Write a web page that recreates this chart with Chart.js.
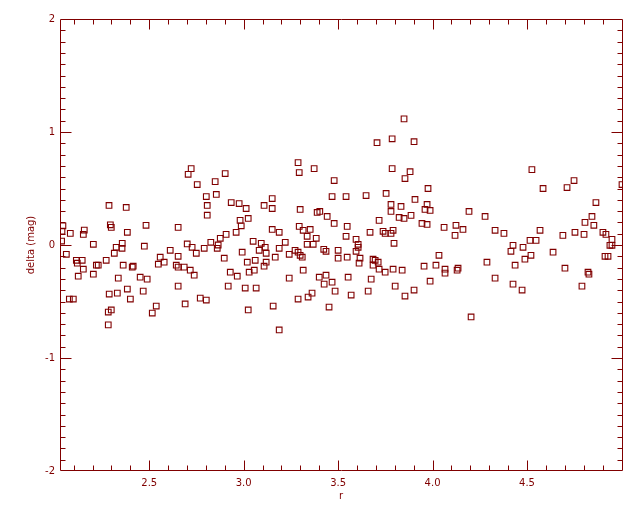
<!DOCTYPE html>
<html>
<head>
<meta charset="utf-8">
<script src="https://cdn.jsdelivr.net/npm/chart.js@4.4.0/dist/chart.umd.min.js"></script>
<style>
  html, body { margin: 0; padding: 0; background: #fff; }
  #wrap { width: 640px; height: 512px; }
</style>
</head>
<body>
<div id="wrap"><canvas id="chart"></canvas></div>
<script>
// values
const rValues = [
  2.043, 2.038, 2.036, 2.082, 2.151, 2.156, 2.204, 2.287, 2.294, 2.299,
  2.378, 2.384, 2.357, 2.356, 2.325, 2.483, 2.474, 2.653, 2.701, 2.706,
  2.722, 2.754, 2.727, 2.791, 2.802, 2.807, 2.807, 2.826, 2.849, 2.855,
  2.860, 2.865, 2.876, 2.902, 2.907, 2.934, 2.960, 2.976, 2.981, 2.987,
  3.013, 3.024, 3.050, 3.093, 3.108, 3.114, 3.151, 3.151, 3.151, 3.188,
  3.188, 3.220, 3.288, 3.294, 3.299, 3.294, 3.315, 3.352, 3.336, 3.336,
  3.368, 3.373, 3.389, 3.384, 3.849, 3.706, 3.786, 3.902, 3.786, 3.881,
  3.854, 3.479, 3.468, 3.542, 3.648, 3.754, 3.976, 3.907, 3.780, 3.780,
  3.833, 3.971, 3.960, 3.987, 3.823, 3.849, 3.886, 3.717, 3.442, 3.479,
  3.403, 3.944, 3.971, 3.548, 3.669, 3.738, 3.749, 3.780, 3.791, 3.542,
  3.595, 3.796, 3.606, 3.606, 4.193, 4.278, 4.061, 4.124, 4.161, 4.119,
  4.331, 4.378, 4.426, 4.479, 4.516, 4.548, 4.569, 4.526, 4.585, 4.690,
  4.712, 4.749, 4.754, 4.802, 4.865, 4.844, 4.807, 4.854, 4.902, 4.918,
  4.950, 4.939, 4.950, 5.003,
  2.061, 2.114, 2.119, 2.145, 2.151, 2.124, 2.077, 2.098, 2.204, 2.220,
  2.230, 2.272, 2.315, 2.362, 2.336, 2.288, 2.283, 2.299, 2.283, 2.331,
  2.384, 2.400, 2.410, 2.415, 2.452, 2.468, 2.489, 2.516, 2.537, 2.548,
  2.558, 2.579, 2.611, 2.643, 2.653, 2.653, 2.653, 2.685, 2.690, 2.717,
  2.738, 2.749, 2.770, 2.802, 2.897, 2.918, 2.929, 2.966, 2.992, 3.019,
  3.029, 3.008, 3.024, 3.061, 3.056, 3.066, 3.082, 3.108, 3.119, 3.119,
  3.167, 3.156, 3.188, 3.241, 3.241, 3.288, 3.272, 3.288, 3.299, 3.310,
  3.315, 3.341, 3.362, 3.400, 3.424, 3.436, 3.500, 3.500, 3.548, 3.595,
  3.616, 3.611, 3.436, 3.426, 3.468, 3.484, 3.452, 3.553, 3.569, 3.685,
  3.696, 3.685, 3.712, 3.717, 3.675, 3.659, 3.749, 3.791, 3.839, 3.802,
  3.854, 3.902, 3.955, 4.018, 4.034, 3.987, 4.066, 4.066, 4.130, 4.135,
  4.204, 4.288, 4.331, 4.415, 4.437, 4.426, 4.474, 4.489, 4.521, 4.638,
  4.701, 4.791, 4.823, 4.828, 4.913, 4.929
];
const deltaValues = [
  0.170, 0.123, 0.035, 0.103, 0.094, 0.132, 0.006, 0.350, 0.179, 0.156,
  0.332, 0.112, 0.015, -0.029, -0.020, 0.174, -0.011, 0.156, 0.009, 0.626,
  0.676, 0.535, -0.020, -0.029, 0.429, 0.350, 0.264, 0.024, 0.561, 0.447,
  -0.029, 0.000, 0.059, 0.632, 0.094, 0.376, 0.112, 0.367, 0.218, 0.170,
  0.323, 0.235, 0.033, 0.015, 0.350, -0.020, 0.411, 0.323, 0.138, 0.112,
  -0.029, 0.024, 0.729, 0.641, 0.315, 0.165, 0.130, 0.138, 0.077, 0.006,
  0.006, 0.676, 0.288, 0.059, 1.116, 0.905, 0.940, 0.914, 0.676, 0.649,
  0.588, 0.570, 0.429, 0.429, 0.438, 0.456, 0.500, 0.403, 0.359, 0.297,
  0.341, 0.359, 0.315, 0.306, 0.244, 0.235, 0.262, 0.218, 0.253, 0.191,
  0.297, 0.191, 0.182, 0.165, 0.112, 0.121, 0.103, 0.103, 0.130, 0.077,
  0.050, 0.015, 0.006, -0.020, 0.297, 0.253, 0.156, 0.174, 0.138, 0.085,
  0.130, 0.103, -0.003, -0.020, 0.041, 0.041, 0.130, 0.667, 0.500, 0.085,
  0.508, 0.570, 0.112, 0.094, 0.376, 0.253, 0.200, 0.174, 0.112, 0.094,
  0.050, -0.003, -0.003, 0.535,
  -0.082, -0.135, -0.161, -0.135, -0.214, -0.276, -0.478, -0.478, -0.258, -0.179,
  -0.179, -0.135, -0.073, -0.179, -0.293, -0.434, -0.593, -0.575, -0.707, -0.426,
  -0.390, -0.478, -0.196, -0.188, -0.285, -0.408, -0.302, -0.602, -0.540, -0.170,
  -0.108, -0.152, -0.047, -0.179, -0.196, -0.100, -0.364, -0.196, -0.522, -0.223,
  -0.267, -0.073, -0.470, -0.487, -0.117, -0.364, -0.241, -0.276, -0.064, -0.152,
  -0.241, -0.381, -0.575, -0.135, -0.223, -0.381, -0.047, -0.188, -0.073, -0.152,
  -0.108, -0.540, -0.752, -0.082, -0.293, -0.478, -0.047, -0.064, -0.091, -0.108,
  -0.223, -0.461, -0.426, -0.285, -0.038, -0.056, -0.047, -0.117, -0.108, -0.056,
  -0.117, -0.161, -0.267, -0.346, -0.329, -0.408, -0.549, -0.285, -0.443, -0.126,
  -0.135, -0.179, -0.152, -0.214, -0.302, -0.408, -0.241, -0.214, -0.223, -0.364,
  -0.452, -0.399, -0.188, -0.179, -0.091, -0.320, -0.214, -0.249, -0.223, -0.205,
  -0.637, -0.152, -0.293, -0.056, -0.179, -0.346, -0.399, -0.126, -0.091, -0.064,
  -0.205, -0.364, -0.241, -0.258, -0.100, -0.100
];
const xTicks = [2.5, 3.0, 3.5, 4.0, 4.5];
const yTicks = [-2, -1, 0, 1, 2];
const xRange = [2.0275, 5.003];
const yRange = [-2, 2];

const ink = '#800000';
const font = { family: 'DejaVu Sans', size: 10 };

// IDL style box: frame on four sides, major and minor ticks pointing inwards
const frameTicks = {
  id: 'frameTicks',
  afterDatasetsDraw(chart) {
    const { ctx, chartArea: a, scales: { x, y } } = chart;
    ctx.save();
    ctx.strokeStyle = ink;
    ctx.lineWidth = 1;
    ctx.beginPath();
    ctx.rect(a.left + 0.5, a.top + 0.5, a.right - a.left, a.bottom - a.top - 1);
    const bottom = a.bottom - 0.5, top = a.top + 0.5;
    const left = a.left + 0.5, right = a.right + 0.5;
    for (let i = 21; i <= 49; i++) {
      const px = Math.round(x.getPixelForValue(i / 10)) + 0.5;
      const len = i % 5 === 0 ? 10 : 5;
      ctx.moveTo(px, bottom); ctx.lineTo(px, bottom - len);
      ctx.moveTo(px, top); ctx.lineTo(px, top + len);
    }
    for (let i = -19; i <= 19; i++) {
      const py = Math.round(y.getPixelForValue(i / 10)) + 0.5;
      const len = i % 10 === 0 ? 11 : 5;
      ctx.moveTo(left, py); ctx.lineTo(left + len, py);
      ctx.moveTo(right, py); ctx.lineTo(right - len, py);
    }
    ctx.stroke();
    ctx.restore();
  }
};

const points = rValues.map((r, i) => ({ x: r, y: deltaValues[i] }));

new Chart(document.getElementById('chart'), {
  type: 'scatter',
  data: {
    datasets: [{
      data: points,
      pointStyle: 'rect',
      pointRadius: 4,
      pointBorderWidth: 1.1,
      borderColor: ink,
      backgroundColor: 'rgba(0,0,0,0)',
      clip: 0,
    }],
  },
  options: {
    responsive: true,
    maintainAspectRatio: false,
    animation: false,
    devicePixelRatio: 1,
    layout: { padding: { top: 19, right: 18, left: 0, bottom: 0 } },
    plugins: { legend: { display: false }, tooltip: { enabled: false } },
    scales: {
      x: {
        type: 'linear',
        min: xRange[0],
        max: xRange[1],
        afterBuildTicks: (s) => { s.ticks = xTicks.map((v) => ({ value: v })); },
        afterFit: (s) => { s.height = 41; },
        grid: { display: false, drawTicks: false },
        border: { display: false },
        ticks: {
          color: ink, font, padding: 6, maxRotation: 0, autoSkip: false,
          callback: (v) => Number(v).toFixed(1),
        },
        title: { display: true, text: 'r', color: ink, font, padding: { top: 0, bottom: 10 } },
      },
      y: {
        type: 'linear',
        min: yRange[0],
        max: yRange[1],
        afterBuildTicks: (s) => { s.ticks = yTicks.map((v) => ({ value: v })); },
        afterFit: (s) => { s.width = 60; },
        grid: { display: false, drawTicks: false },
        border: { display: false },
        ticks: {
          color: ink, font, padding: 5, autoSkip: false,
          callback: (v) => String(v),
        },
        title: { display: true, text: 'delta (mag)', color: ink, font, padding: { top: 25, bottom: 0 } },
      },
    },
  },
  plugins: [frameTicks],
});
</script>
</body>
</html>
